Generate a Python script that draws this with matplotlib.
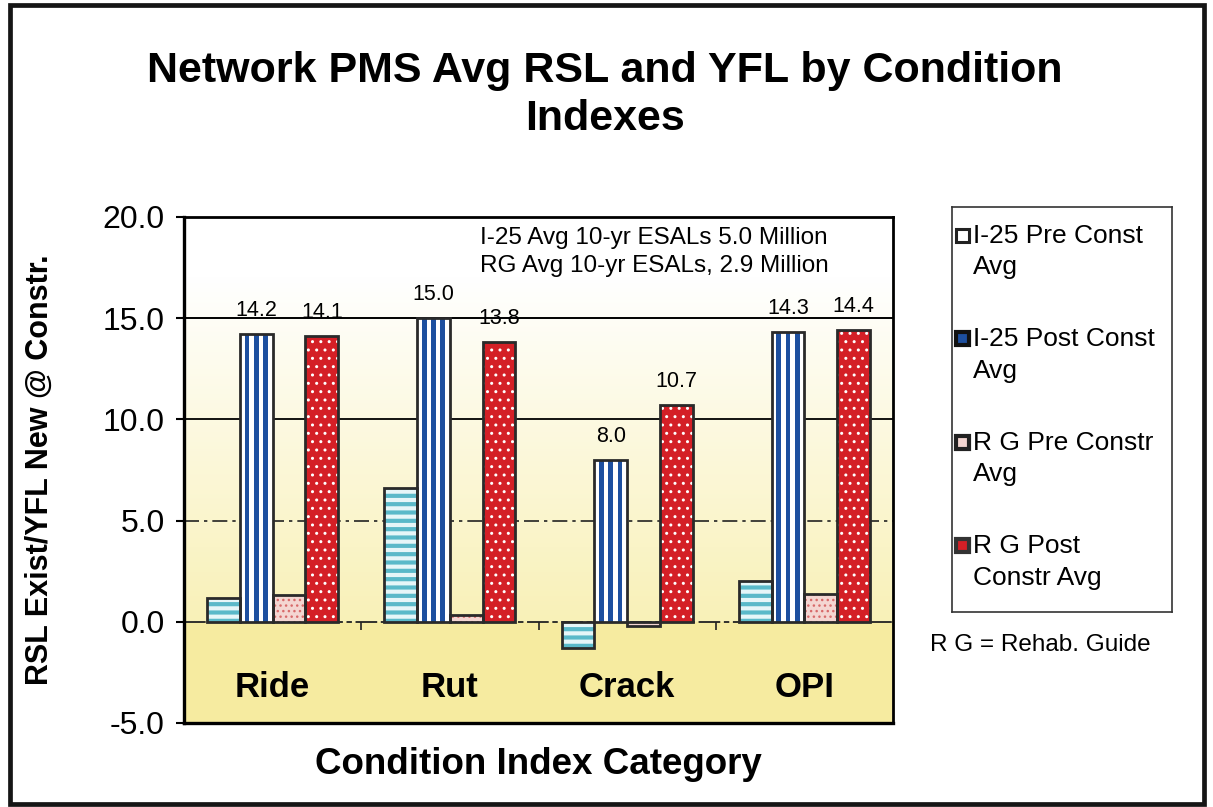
import matplotlib.pyplot as plt
import numpy as np
from matplotlib.patches import Rectangle

plt.rcParams["font.family"] = ["Liberation Sans", "DejaVu Sans"]

categories = ["Ride", "Rut", "Crack", "OPI"]
i25_pre = [1.2, 6.6, -1.3, 2.0]
i25_post = [14.2, 15.0, 8.0, 14.3]
rg_pre = [1.3, 0.35, -0.2, 1.35]
rg_post = [14.1, 13.8, 10.7, 14.4]
series_labels = [
    "I-25 Pre Const\nAvg",
    "I-25 Post Const\nAvg",
    "R G Pre Constr\nAvg",
    "R G Post\nConstr Avg",
]
y_ticks = [-5, 0, 5, 10, 15, 20]
esal_note = "I-25 Avg 10-yr ESALs 5.0 Million\nRG Avg 10-yr ESALs, 2.9 Million"

BLUE = "#1d4f9f"
RED = "#d41f26"
CYAN = "#5ab9c9"
PINK_FACE = "#f4d6d2"
PINK_DOT = "#d86a6a"
EDGE = "#2a2a2a"

fig = plt.figure(figsize=(12.13, 8.07), dpi=100)
W, H = 1213, 807
ax = fig.add_axes([184 / W, (H - 723) / H, (893 - 184) / W, (723 - 217) / H])

x = np.arange(len(categories))
w = 0.185
offsets = [-1.5 * w, -0.5 * w, 0.5 * w, 1.5 * w]

# background: yellow below zero, fading to white going up
ys = np.linspace(-5, 20, 600)
yellow = np.array([0.965, 0.925, 0.63])
pale = np.array([0.975, 0.945, 0.72])
white = np.array([1.0, 1.0, 1.0])
t = np.clip(ys / 17.0, 0, 1)
rows = np.where(ys[:, None] < 0, yellow, pale * (1 - t[:, None]) + white * t[:, None])
img = np.repeat(rows[:, None, :], 4, axis=1)
ax.imshow(img, extent=(-0.5, 3.5, -5, 20), origin="lower", aspect="auto", zorder=0)

# grid lines
ax.axhline(15, color="black", lw=1.4, zorder=1)
ax.axhline(10, color="black", lw=1.3, zorder=1)
ax.axhline(5, color="#222222", lw=1.2, ls=(0, (9, 3, 2, 3)), zorder=1)
ax.axhline(0, color="#222222", lw=1.3, ls=(0, (12, 2, 3, 2)), zorder=1)
ax.vlines([0.5, 1.5, 2.5], -0.4, 0, color="#222222", lw=1.2, zorder=1)

# I-25 pre: horizontal cyan stripes
with plt.rc_context({"hatch.linewidth": 3.0}):
    ax.bar(x + offsets[0], i25_pre, w, color="#e6f6f8", edgecolor=CYAN,
           hatch="--", lw=0, zorder=3)
ax.bar(x + offsets[0], i25_pre, w, fill=False, edgecolor=EDGE, lw=2, zorder=4)

# I-25 post: white with vertical blue stripes
ax.bar(x + offsets[1], i25_post, w, color="white", lw=0, zorder=3)
for s in (-0.052, 0.0, 0.052):
    ax.bar(x + offsets[1] + s, i25_post, 0.027, color=BLUE, lw=0, zorder=3.5)
ax.bar(x + offsets[1], i25_post, w, fill=False, edgecolor=EDGE, lw=2, zorder=4)

# R G pre: pink speckle
with plt.rc_context({"hatch.linewidth": 1.0}):
    ax.bar(x + offsets[2], rg_pre, w, color=PINK_FACE, edgecolor=PINK_DOT,
           hatch="...", lw=0, zorder=3)
ax.bar(x + offsets[2], rg_pre, w, fill=False, edgecolor=EDGE, lw=2, zorder=4)

# R G post: red with white dots
with plt.rc_context({"hatch.linewidth": 1.0}):
    ax.bar(x + offsets[3], rg_post, w, color=RED, edgecolor="white",
           hatch="..", lw=0, zorder=3)
ax.bar(x + offsets[3], rg_post, w, fill=False, edgecolor=EDGE, lw=2, zorder=4)

# value labels over post bars
for xs, vals in ((x + offsets[1], i25_post), (x + offsets[3], rg_post)):
    for xi, v in zip(xs, vals):
        ax.annotate(f"{v:.1f}", (xi, v), xytext=(0, 17), textcoords="offset points",
                    ha="center", va="center", fontsize=15.5, zorder=5)

# category names inside the plot area
for xi, name in zip(x, categories):
    ax.text(xi, -3.25, name, ha="center", va="center", fontsize=25,
            fontweight="bold", zorder=5)

ax.set_xlim(-0.5, 3.5)
ax.set_ylim(-5, 20)
ax.set_xticks([])
ax.set_yticks(y_ticks)
ax.set_yticklabels([f"{v:.1f}" for v in y_ticks], fontsize=23)
ax.tick_params(axis="y", direction="out", length=6, width=1.5, pad=8)
for side in ("left", "bottom"):
    ax.spines[side].set_linewidth(2.4)
for side in ("top", "right"):
    ax.spines[side].set_linewidth(2.0)

fig.text(40 / W, (H - 470) / H, "RSL Exist/YFL New @ Constr.", rotation=90,
         ha="center", va="center", fontsize=22, fontweight="bold")
fig.text(538 / W, (H - 764) / H, "Condition Index Category", ha="center",
         va="center", fontsize=26.5, fontweight="bold")
fig.text(605 / W, (H - 95) / H, "Network PMS Avg RSL and YFL by Condition\nIndexes",
         ha="center", va="center", fontsize=31, fontweight="bold", linespacing=1.27)
fig.text(480 / W, (H - 252) / H, esal_note, ha="left", va="center",
         fontsize=17.5, linespacing=1.38)

# legend drawn in its own box, coordinates in reference pixels
lax = fig.add_axes([952 / W, (H - 612) / H, (1172 - 952) / W, (612 - 207) / H])
lax.set_xlim(952, 1172)
lax.set_ylim(612, 207)
lax.set_xticks([])
lax.set_yticks([])
for sp in lax.spines.values():
    sp.set_linewidth(1.2)
    sp.set_color("#333333")

swatches = [
    dict(facecolor="white", edgecolor="#222222", lw=2.2),
    dict(facecolor=BLUE, edgecolor="#111111", lw=3.0),
    dict(facecolor=PINK_FACE, edgecolor="#222222", lw=3.0),
    dict(facecolor=RED, edgecolor="#333333", lw=3.0),
]
for i, (label, sw) in enumerate(zip(series_labels, swatches)):
    y0 = 235 + 103.5 * i
    lax.add_patch(Rectangle((956, y0 - 6.5), 13, 13, **sw))
    lax.text(973, y0 + 16.5, label, ha="left", va="center", fontsize=19,
             linespacing=1.38)

fig.text(930 / W, (H - 645) / H, "R G = Rehab. Guide", ha="left", va="center",
         fontsize=17.5)

# outer frame
fig.add_artist(Rectangle((10 / W, 3 / H), 1194 / W, 799 / H, transform=fig.transFigure,
                         fill=False, edgecolor="#151515", lw=3.4))

fig.savefig("out.png", dpi=100)
